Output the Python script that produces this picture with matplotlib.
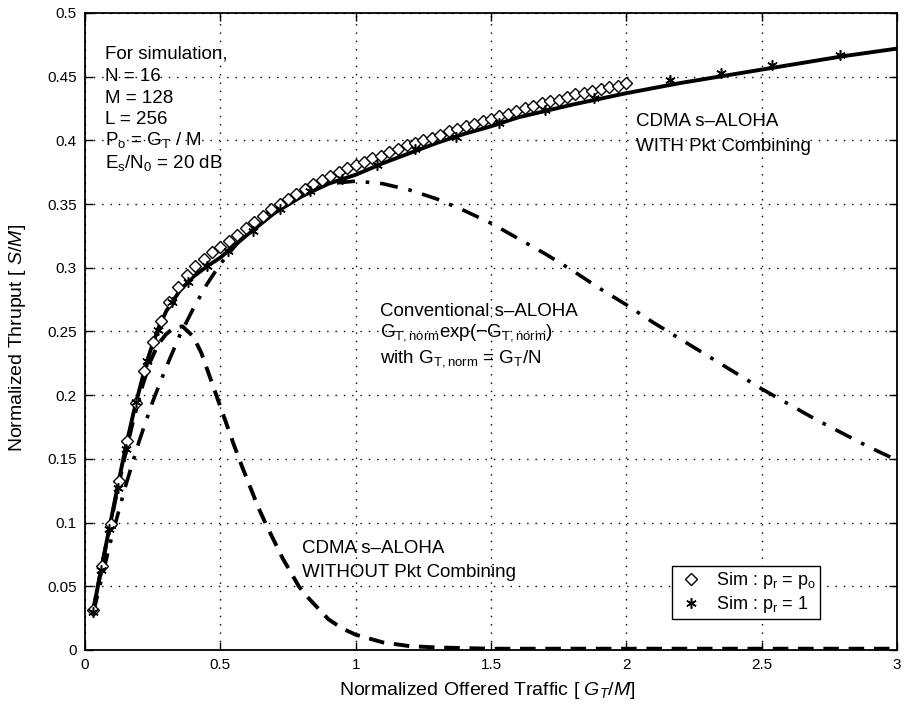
import matplotlib
matplotlib.use("Agg")
import matplotlib.pyplot as plt
from matplotlib.lines import Line2D

plt.rcParams["font.family"] = ["Liberation Sans", "DejaVu Sans"]
plt.rcParams["mathtext.fontset"] = "custom"
plt.rcParams["mathtext.rm"] = "Liberation Sans"
plt.rcParams["mathtext.it"] = "Liberation Sans:italic"

# CDMA s-ALOHA WITH packet combining (analysis, solid)
with_x = [0.03, 0.06, 0.09, 0.12, 0.15, 0.18, 0.21, 0.24, 0.27, 0.30, 0.35, 0.40,
          0.45, 0.50, 0.60, 0.70, 0.80, 0.90, 1.0, 1.1, 1.2, 1.3, 1.4, 1.5, 1.6,
          1.8, 2.0, 2.2, 2.4, 2.6, 2.8, 3.0]
with_y = [0.031, 0.064, 0.096, 0.128, 0.159, 0.187, 0.212, 0.234, 0.252, 0.266,
          0.282, 0.293, 0.301, 0.308, 0.326, 0.343, 0.356, 0.366, 0.373, 0.382,
          0.390, 0.398, 0.405, 0.411, 0.418, 0.428, 0.437, 0.445, 0.452, 0.459,
          0.466, 0.472]

# CDMA s-ALOHA WITHOUT packet combining (dashed)
without_x = [0.03, 0.06, 0.09, 0.12, 0.15, 0.18, 0.21, 0.24, 0.27, 0.30, 0.33,
             0.36, 0.40, 0.43, 0.46, 0.49, 0.52, 0.55, 0.58, 0.61, 0.64, 0.67,
             0.70, 0.73, 0.76, 0.79, 0.82, 0.86, 0.90, 0.95, 1.0, 1.1, 1.2, 1.3,
             1.5, 2.0, 2.5, 3.0]
without_y = [0.031, 0.064, 0.095, 0.126, 0.155, 0.182, 0.206, 0.226, 0.240, 0.248,
             0.253, 0.254, 0.246, 0.233, 0.215, 0.197, 0.179, 0.161, 0.144, 0.128,
             0.112, 0.098, 0.085, 0.072, 0.061, 0.050, 0.042, 0.033, 0.024, 0.017,
             0.012, 0.006, 0.003, 0.002, 0.001, 0.001, 0.001, 0.001]

# conventional s-ALOHA (dash-dot)
conv_x = [0.03, 0.1, 0.15, 0.2, 0.25, 0.3, 0.35, 0.4, 0.45, 0.5, 0.6, 0.7, 0.8,
          0.9, 1.0, 1.1, 1.2, 1.3, 1.4, 1.5, 1.6, 1.7, 1.8, 1.9, 2.0, 2.1, 2.2,
          2.3, 2.4, 2.5, 2.6, 2.7, 2.8, 2.9, 3.0]
conv_y = [0.029, 0.090, 0.129, 0.164, 0.195, 0.222, 0.247, 0.268, 0.287, 0.303,
          0.329, 0.348, 0.359, 0.366, 0.368, 0.366, 0.361, 0.354, 0.345, 0.335,
          0.323, 0.311, 0.298, 0.284, 0.271, 0.257, 0.244, 0.231, 0.218, 0.205,
          0.193, 0.181, 0.170, 0.159, 0.149]

# simulation, p_r = p_o (diamonds)
sim_po_x = [0.031, 0.062, 0.094, 0.125, 0.156, 0.188, 0.219, 0.25, 0.281, 0.312,
            0.344, 0.375, 0.406, 0.438, 0.469, 0.5, 0.531, 0.562, 0.594, 0.625,
            0.656, 0.688, 0.719, 0.75, 0.781, 0.812, 0.844, 0.875, 0.906, 0.938,
            0.969, 1.0, 1.031, 1.062, 1.094, 1.125, 1.156, 1.188, 1.219, 1.25,
            1.281, 1.312, 1.344, 1.375, 1.406, 1.438, 1.469, 1.5, 1.531, 1.562,
            1.594, 1.625, 1.656, 1.688, 1.719, 1.75, 1.781, 1.812, 1.844, 1.875,
            1.906, 1.938, 1.969, 2.0]
sim_po_y = [0.031, 0.066, 0.099, 0.133, 0.164, 0.194, 0.219, 0.242, 0.258, 0.273,
            0.285, 0.294, 0.301, 0.307, 0.312, 0.316, 0.321, 0.326, 0.331, 0.336,
            0.341, 0.346, 0.350, 0.354, 0.358, 0.362, 0.366, 0.369, 0.372, 0.375,
            0.378, 0.381, 0.383, 0.386, 0.388, 0.391, 0.393, 0.396, 0.398, 0.400,
            0.402, 0.404, 0.407, 0.409, 0.411, 0.413, 0.415, 0.417, 0.419, 0.421,
            0.423, 0.425, 0.427, 0.429, 0.431, 0.432, 0.434, 0.436, 0.437, 0.439,
            0.440, 0.442, 0.443, 0.445]

# simulation, p_r = 1 (asterisks)
sim_p1_x = [0.03, 0.06, 0.09, 0.12, 0.15, 0.19, 0.23, 0.27, 0.32, 0.38, 0.45, 0.53,
            0.62, 0.72, 0.83, 0.95, 1.08, 1.22, 1.37, 1.53, 1.70, 1.88, 2.16, 2.35,
            2.54, 2.79]
sim_p1_y = [0.030, 0.063, 0.095, 0.127, 0.158, 0.195, 0.227, 0.251, 0.273, 0.289,
            0.301, 0.313, 0.329, 0.346, 0.360, 0.370, 0.381, 0.393, 0.403, 0.414,
            0.424, 0.433, 0.447, 0.453, 0.459, 0.467]

x_ticks = [0, 0.5, 1, 1.5, 2, 2.5, 3]
x_labels = ["0", "0.5", "1", "1.5", "2", "2.5", "3"]
y_ticks = [0, 0.05, 0.1, 0.15, 0.2, 0.25, 0.3, 0.35, 0.4, 0.45, 0.5]
y_labels = ["0", "0.05", "0.1", "0.15", "0.2", "0.25", "0.3", "0.35", "0.4",
            "0.45", "0.5"]

fig = plt.figure(figsize=(9.05, 7.11), dpi=100)
ax = fig.add_axes([0.094, 0.0858, 0.897, 0.896])

ax.plot(conv_x, conv_y, color="black", lw=2.6, linestyle=(0, (5, 3, 1, 3)))
ax.plot(without_x, without_y, color="black", lw=2.8, linestyle=(0, (4, 2.5)))
ax.plot(with_x, with_y, color="black", lw=2.8)
ax.plot(sim_po_x, sim_po_y, linestyle="none", marker="D", markersize=6.6,
        markerfacecolor="white", markeredgecolor="black", markeredgewidth=1.0)
ax.plot(sim_p1_x, sim_p1_y, linestyle="none", marker=(6, 2, 0), markersize=7.5,
        markeredgecolor="black", markeredgewidth=1.1)

ax.set_xlim(0, 3)
ax.set_ylim(0, 0.5)
ax.set_xticks(x_ticks)
ax.set_xticklabels(x_labels)
ax.set_yticks(y_ticks)
ax.set_yticklabels(y_labels)
ax.tick_params(direction="in", length=6, width=1, top=True, right=True,
               labelsize=11, pad=6)
for s in ax.spines.values():
    s.set_linewidth(1.3)
ax.grid(True, color="black", linestyle=(0, (1, 5)), linewidth=1.0)

ax.set_xlabel(r"Normalized Offered Traffic [ $G_T/M$]", fontsize=14)
ax.set_ylabel(r"Normalized Thruput [ $S/M$]", fontsize=14)
ax.xaxis.set_label_coords(0.495, -0.047)
ax.yaxis.set_label_coords(-0.07, 0.49)

fs = 13.5
sim_lines = [
    ("For simulation,", 0.468),
    ("N = 16", 0.450),
    ("M = 128", 0.433),
    ("L = 256", 0.416),
    (r"P$_\mathrm{o}$ = G$_\mathrm{T}$ / M", 0.400),
    (r"E$_\mathrm{s}$/N$_\mathrm{0}$ = 20 dB", 0.382),
]
for txt, yy in sim_lines:
    ax.text(0.075, yy, txt, fontsize=fs, va="center", ha="left")

ax.text(2.035, 0.415, "CDMA s\u2013ALOHA", fontsize=fs, va="center")
ax.text(2.035, 0.395, "WITH Pkt Combining", fontsize=fs, va="center")

ax.text(1.09, 0.266, "Conventional s\u2013ALOHA", fontsize=fs, va="center")
ax.text(1.09, 0.249, r"G$_\mathrm{T,norm}$exp($-$G$_\mathrm{T,norm}$)",
        fontsize=fs, va="center")
ax.text(1.09, 0.229, r"with G$_\mathrm{T,norm}$ = G$_\mathrm{T}$/N",
        fontsize=fs, va="center")

ax.text(0.80, 0.080, "CDMA s\u2013ALOHA", fontsize=fs, va="center")
ax.text(0.80, 0.061, "WITHOUT Pkt Combining", fontsize=fs, va="center")

handles = [
    Line2D([], [], linestyle="none", marker="D", markersize=6.6,
           markerfacecolor="white", markeredgecolor="black"),
    Line2D([], [], linestyle="none", marker=(6, 2, 0), markersize=7.5,
           markeredgecolor="black", markeredgewidth=1.1),
]
labels = [r"Sim : p$_\mathrm{r}$ = p$_\mathrm{o}$", r"Sim : p$_\mathrm{r}$ = 1"]
leg = ax.legend(handles, labels, loc="lower left", bbox_to_anchor=(0.7225, 0.048),
                fontsize=13, frameon=True, fancybox=False, framealpha=1,
                edgecolor="black", borderaxespad=0, handlelength=1.6,
                handletextpad=0.6, borderpad=0.25, labelspacing=0.15)
leg.get_frame().set_linewidth(1.0)

fig.savefig("out.png", dpi=100)
